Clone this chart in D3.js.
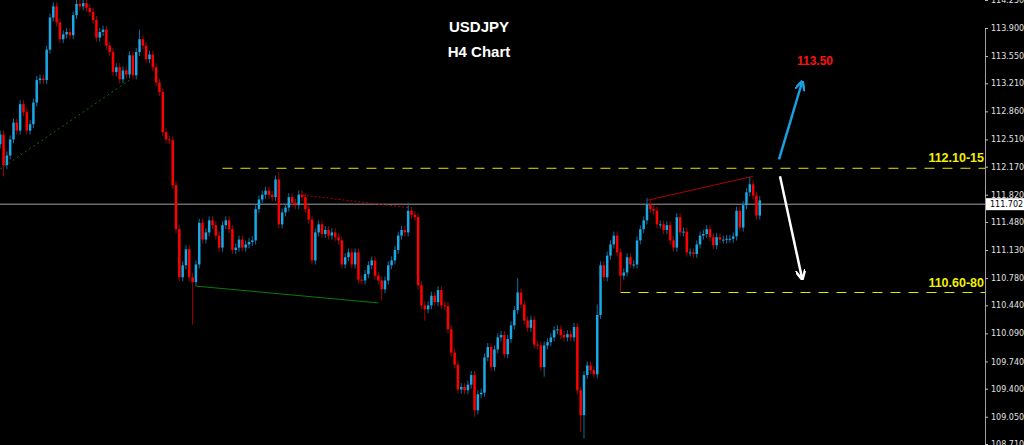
<!DOCTYPE html>
<html><head><meta charset="utf-8">
<script src="https://cdn.jsdelivr.net/npm/d3@7"></script>
<style>body{margin:0;background:#000}svg{display:block}</style></head>
<body><svg id="c" width="1024" height="445"></svg>
<script>
const closes=[112.57,112.19,112.31,112.51,112.72,112.62,112.95,112.85,112.62,112.70,
112.97,113.25,113.27,113.25,113.63,114.03,114.17,113.97,113.76,113.82,
113.85,113.81,114.06,114.20,114.17,114.21,114.15,114.10,114.00,113.78,
113.85,113.88,113.68,113.60,113.35,113.41,113.26,113.37,113.32,113.56,
113.31,113.60,113.76,113.68,113.51,113.57,113.41,113.22,113.10,112.60,
112.51,112.50,111.94,111.39,110.79,110.94,111.14,110.79,110.73,110.95,
111.47,111.26,111.35,111.50,111.44,111.31,111.16,111.44,111.50,111.39,
111.13,111.16,111.26,111.16,111.20,111.23,111.25,111.64,111.76,111.82,
111.87,111.82,111.79,112.01,111.45,111.60,111.66,111.79,111.72,111.69,
111.82,111.79,111.64,111.51,111.00,111.35,111.45,111.33,111.38,111.31,
111.35,111.29,111.25,110.95,111.04,111.10,110.95,111.10,110.76,110.75,
110.83,110.94,111.00,110.81,110.75,110.64,110.75,110.94,111.00,111.13,
111.31,111.38,111.35,111.62,111.57,111.54,110.69,110.44,110.39,110.44,
110.56,110.48,110.63,110.44,110.43,110.14,109.85,109.70,109.39,109.42,
109.38,109.45,109.57,109.13,109.33,109.35,109.79,109.92,109.67,109.89,
110.04,110.07,109.83,110.02,110.19,110.38,110.60,110.45,110.25,110.16,
110.26,109.95,109.94,109.67,109.94,109.98,110.04,110.13,110.14,110.07,
110.04,110.08,110.04,110.17,109.38,109.07,109.57,109.69,109.63,109.58,
110.32,110.94,110.79,111.06,111.20,111.31,111.10,110.81,110.85,111.04,
110.95,110.95,111.25,111.39,111.50,111.70,111.64,111.62,111.45,111.45,
111.38,111.44,111.25,111.16,111.54,111.35,111.36,111.10,111.10,111.08,
111.20,111.31,111.33,111.39,111.29,111.19,111.29,111.26,111.26,111.27,
111.27,111.30,111.62,111.41,111.69,111.85,111.95,111.81,111.56,111.75];
const firstOpen=112.45;
// notable wick extremes: [index, high or low price]
const highSpikes=[[23,114.28],[25,114.30],[84,112.10],[123,111.72],[156,110.78],[195,111.78],[226,112.04],[42,113.88],[180,110.45]];
const lowSpikes=[[58,110.20],[115,110.50],[143,109.05],[175,108.86],[176,108.78],[187,110.60],[1,112.05],[128,110.25],[164,109.55]];
const wickPad=0.05;
const yTicks=[114.250,113.900,113.550,113.210,112.860,112.510,112.170,111.820,111.480,111.130,110.780,110.440,110.090,109.740,109.400,109.050,108.710];
const currentPrice=111.702;
const levels=[{p:112.15,from:67,label:"112.10-15"},{p:110.60,from:187,label:"110.60-80"}];
const target="113.50";
const trendLines=[
 {a:[0,112.14],b:[39,113.25],color:"#0a6e0a",dash:"2,3"},
 {a:[59,110.68],b:[114,110.47],color:"#0a7a0a",dash:null},
 {a:[90,111.82],b:[123,111.66],color:"#b00000",dash:"2,2"},
 {a:[195,111.75],b:[227,112.05],color:"#b00000",dash:null}];

const svg=d3.select("#c");
svg.append("rect").attr("width",1024).attr("height",445).attr("fill","#000");
const y=d3.scaleLinear().domain([108.71,113.90]).range([444,28]);
const x=d3.scaleBand().domain(d3.range(closes.length)).range([-1,761]).paddingInner(0.25);
const cx=i=>x(i)+x.bandwidth()/2;
const hs=new Map(highSpikes), ls=new Map(lowSpikes);
const candles=closes.map((c,i)=>{const o=i?closes[i-1]:firstOpen;
 return {i,o,c,h:hs.get(i)??Math.max(o,c)+wickPad,l:ls.get(i)??Math.min(o,c)-wickPad};});
const g=svg.append("g");
g.append("line").attr("x1",0).attr("x2",985).attr("y1",y(currentPrice)).attr("y2",y(currentPrice)).attr("stroke","#a0a0a0").attr("stroke-width",1);
levels.forEach(L=>{g.append("line").attr("x1",cx(L.from)).attr("x2",985).attr("y1",y(L.p)).attr("y2",y(L.p))
 .attr("stroke","#e6e600").attr("stroke-width",1).attr("stroke-dasharray","10,8");
 g.append("text").attr("x",984).attr("y",y(L.p)-6).attr("text-anchor","end").attr("fill","#f0f000")
 .attr("font-family","Arial, Liberation Sans").attr("font-weight","bold").attr("font-size",12.5).text(L.label);});
trendLines.forEach(t=>g.append("line").attr("x1",cx(t.a[0])).attr("y1",y(t.a[1])).attr("x2",cx(t.b[0])).attr("y2",y(t.b[1]))
 .attr("stroke",t.color).attr("stroke-width",1).attr("stroke-dasharray",t.dash));
const cg=g.append("g");
candles.forEach(d=>{const up=d.c>=d.o;
 cg.append("line").attr("x1",cx(d.i)).attr("x2",cx(d.i)).attr("y1",y(d.h)).attr("y2",y(d.l)).attr("stroke",up?"#0d6f9e":"#a00000").attr("stroke-width",1);
 const t=y(Math.max(d.o,d.c)),b=y(Math.min(d.o,d.c));
 cg.append("rect").attr("x",x(d.i)).attr("width",x.bandwidth()).attr("y",t).attr("height",Math.max(1,b-t)).attr("fill",up?"#1aa9e6":"#ff0000");});
svg.append("defs").html('<marker id="ab" viewBox="0 0 10 10" refX="8" refY="5" markerWidth="4" markerHeight="4" orient="auto"><path d="M0,0L10,5L0,10" fill="none" stroke="#1aa0e0" stroke-width="2.5"/></marker><marker id="aw" viewBox="0 0 10 10" refX="8" refY="5" markerWidth="4" markerHeight="4" orient="auto"><path d="M0,0L10,5L0,10" fill="none" stroke="#fff" stroke-width="2.5"/></marker>');
g.append("line").attr("x1",779).attr("y1",y(112.26)).attr("x2",802).attr("y2",y(113.22)).attr("stroke","#1aa0e0").attr("stroke-width",2.5).attr("marker-end","url(#ab)");
g.append("line").attr("x1",780).attr("y1",y(112.05)).attr("x2",802).attr("y2",y(110.78)).attr("stroke","#fff").attr("stroke-width",2.5).attr("marker-end","url(#aw)");
g.append("text").attr("x",815).attr("y",65).attr("text-anchor","middle").attr("fill","#ff1010").attr("font-family","Arial, Liberation Sans").attr("font-weight","bold").attr("font-size",12).text(target);
["USDJPY","H4 Chart"].forEach((t,k)=>svg.append("text").attr("x",479).attr("y",32+k*25).attr("text-anchor","middle").attr("fill","#fff")
 .attr("font-family","Arial, Liberation Sans").attr("font-weight","bold").attr("font-size",15).text(t));
const ax=svg.append("g").attr("transform","translate(985,0)").call(d3.axisRight(y).tickValues(yTicks).tickFormat(d3.format(".3f")).tickSize(3).tickPadding(3));
ax.select(".domain").attr("stroke","#a0a0a0");
ax.selectAll(".tick line").attr("stroke","#c0c0c0");
ax.selectAll("text").attr("fill","#e0e0e0").attr("font-family","Tahoma, DejaVu Sans").attr("font-size",8);
const py=y(currentPrice);
svg.append("rect").attr("x",986).attr("y",py-6).attr("width",38).attr("height",12).attr("fill","#fff");
svg.append("text").attr("x",990).attr("y",py+3).attr("fill","#000").attr("font-family","Tahoma, DejaVu Sans").attr("font-size",8).text(d3.format(".3f")(currentPrice));
</script></body></html>
